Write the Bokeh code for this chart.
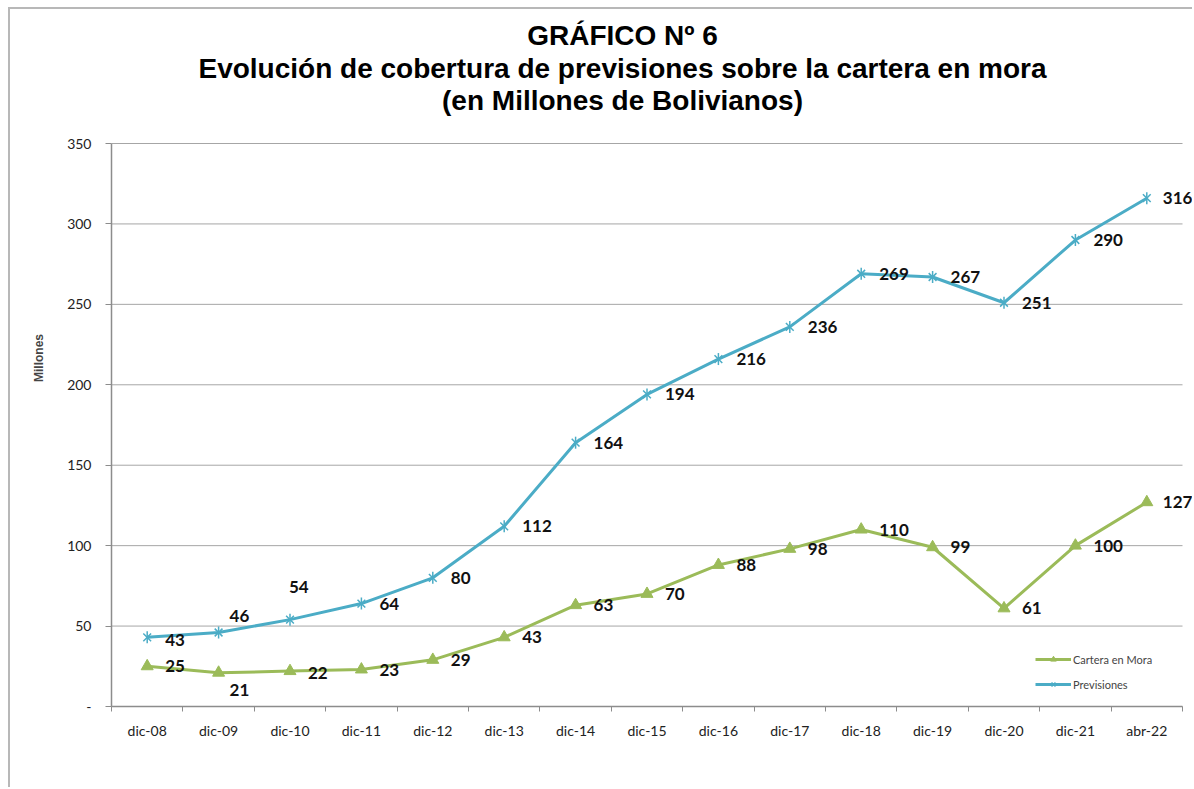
from bokeh.plotting import figure
from bokeh.models import (ColumnDataSource, FixedTicker, Label, Legend, LegendItem,
                          LabelSet)
from bokeh.core.properties import value
from bokeh.embed import file_html
from bokeh.resources import INLINE
import math

# ---------------- data ----------------
categories = ["dic-08", "dic-09", "dic-10", "dic-11", "dic-12", "dic-13", "dic-14",
              "dic-15", "dic-16", "dic-17", "dic-18", "dic-19", "dic-20", "dic-21", "abr-22"]
previsiones = [43, 46, 54, 64, 80, 112, 164, 194, 216, 236, 269, 267, 251, 290, 316]
cartera_mora = [25, 21, 22, 23, 29, 43, 63, 70, 88, 98, 110, 99, 61, 100, 127]
y_ticks = [0, 50, 100, 150, 200, 250, 300, 350]

title_lines = ["GRÁFICO Nº 6",
               "Evolución de cobertura de previsiones sobre la cartera en mora",
               "(en Millones de Bolivianos)"]

# label placement styles (screen-pixel offsets)
prev_dx = [18, 11, -1, 18, 18, 18, 18, 18, 18, 18, 18, 18, 18, 18, 16]
prev_dy = [-3, 17, 33, 0, 0, 0, 0, 0, 0, 0, 0, 0, 0, 0, 0]
mora_dx = [18, 11, 18, 18, 18, 18, 18, 18, 18, 18, 18, 18, 18, 18, 16]
mora_dy = [0, -17, -2, 0, 0, 0, 0, 0, 0, 0, 0, 0, 0, 0, 0]

BLUE = "#4bacc6"
GREEN = "#9bbb59"
GRID = "#a6a6a6"
AXIS = "#8c8c8c"

n = len(categories)
xs = [i + 0.5 for i in range(n)]
y_max = y_ticks[-1]

# layout geometry (pixels)
W, H = 1184, 780
FRAME_L, FRAME_B_FROM_TOP = 101, 697      # frame left edge / bottom, canvas px
PLOT_W = 1071                              # width of the 15 category slots
PLOT_H = 563                               # height of 0..350
frame_w = W - FRAME_L
frame_h = FRAME_B_FROM_TOP
x_end = n * frame_w / PLOT_W
y_end = y_max * frame_h / PLOT_H

src_p = ColumnDataSource(dict(x=xs, y=previsiones, t=[str(v) for v in previsiones],
                              dx=prev_dx, dy=prev_dy))
src_m = ColumnDataSource(dict(x=xs, y=cartera_mora, t=[str(v) for v in cartera_mora],
                              dx=mora_dx, dy=mora_dy))

p = figure(width=W, height=H, output_backend="svg", toolbar_location=None,
           x_range=(0, x_end), y_range=(0, y_end), title=None,
           min_border_left=FRAME_L, min_border_right=0, min_border_top=0,
           min_border_bottom=H - FRAME_B_FROM_TOP, background_fill_color="white",
           border_fill_color="white")
p.styles = {"margin-left": "8px", "margin-top": "7px",
            "border-left": "2px solid #b8b8b8", "border-top": "2px solid #b8b8b8"}
p.outline_line_color = None

# gridlines across the category slots only
grid_src = ColumnDataSource(dict(x0=[0] * len(y_ticks), x1=[n] * len(y_ticks), y=y_ticks))
p.segment(x0="x0", y0="y", x1="x1", y1="y", source=grid_src, line_color=GRID, line_width=1)
p.xgrid.visible = False
p.ygrid.visible = False

# axes
p.xaxis.bounds = (0, n)
p.xaxis.ticker = FixedTicker(ticks=xs, minor_ticks=list(range(n + 1)))
p.xaxis.major_label_overrides = {x: c for x, c in zip(xs, categories)}
p.xaxis.major_tick_out = 0
p.xaxis.major_tick_in = 0
p.xaxis.minor_tick_out = 5
p.xaxis.minor_tick_in = 0
p.xaxis.minor_tick_line_color = AXIS
p.xaxis.axis_line_color = AXIS
p.xaxis.axis_line_width = 1.5
p.xaxis.major_label_text_font = "Lato"
p.xaxis.major_label_text_font_size = "14px"
p.xaxis.major_label_text_color = "#222222"
p.xaxis.major_label_standoff = 10

p.yaxis.bounds = (0, y_max)
p.yaxis.ticker = FixedTicker(ticks=y_ticks)
p.yaxis.major_label_overrides = {0: "-"}
p.yaxis.major_tick_out = 6
p.yaxis.major_tick_in = 0
p.yaxis.minor_tick_line_color = None
p.yaxis.major_tick_line_color = AXIS
p.yaxis.axis_line_color = AXIS
p.yaxis.axis_line_width = 1.5
p.yaxis.major_label_text_font = "Lato"
p.yaxis.major_label_text_font_size = "14px"
p.yaxis.major_label_text_color = "#222222"
p.yaxis.major_label_standoff = 14
p.yaxis.axis_label = "Millones"
p.yaxis.axis_label_text_font = "Liberation Sans"
p.yaxis.axis_label_text_font_style = "bold"
p.yaxis.axis_label_text_font_size = "12px"
p.yaxis.axis_label_standoff = 18

# series
lm = p.line("x", "y", source=src_m, line_color=GREEN, line_width=3)
sm = p.scatter("x", "y", source=src_m, marker="triangle", size=12,
               fill_color=GREEN, line_color=GREEN)
lp = p.line("x", "y", source=src_p, line_color=BLUE, line_width=3)
sp1 = p.scatter("x", "y", source=src_p, marker="x", size=11, line_color=BLUE, line_width=1.5)
sp2 = p.scatter("x", "y", source=src_p, marker="dash", angle=math.pi / 2, size=12,
                line_color=BLUE, line_width=1.5)

for src in (src_p, src_m):
    p.add_layout(LabelSet(x="x", y="y", text="t", source=src, x_offset="dx", y_offset="dy",
                          text_font=value("Lato"), text_font_style="bold",
                          text_font_size="17px", text_color="#111111",
                          text_baseline="middle", text_align="left"))

legend = Legend(items=[LegendItem(label="Cartera en Mora", renderers=[lm, sm]),
                       LegendItem(label="Previsiones", renderers=[lp, sp1, sp2])],
                location=(924, 15), border_line_color=None, background_fill_alpha=0,
                label_text_font="Lato", label_text_font_size="11px",
                glyph_width=36, glyph_height=14, spacing=11, padding=0, margin=0,
                label_standoff=2)
p.add_layout(legend, "center")

# title lines (screen px from frame bottom-left)
for text, ypos in zip(title_lines, [671, 638, 606]):
    p.add_layout(Label(x=511, y=ypos, x_units="screen", y_units="screen", text=text,
                       text_font="Liberation Sans", text_font_style="bold",
                       text_font_size="28px", text_color="#000000",
                       text_align="center", text_baseline="middle"))

open("out.html", "w").write(file_html(p, INLINE))
